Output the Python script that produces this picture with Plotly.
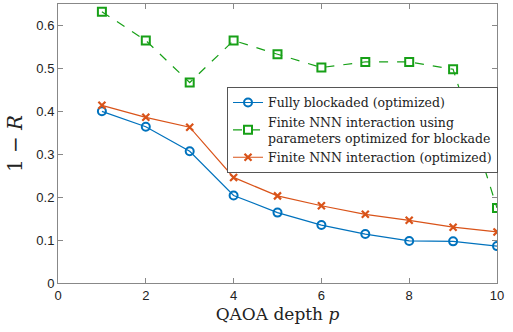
import plotly.graph_objects as go

p = [1, 2, 3, 4, 5, 6, 7, 8, 9, 10]
fully_blockaded = [0.400, 0.364, 0.307, 0.204, 0.164, 0.135, 0.114, 0.098, 0.097, 0.086]
nnn_blockade_params = [0.632, 0.565, 0.467, 0.565, 0.533, 0.502, 0.515, 0.515, 0.498, 0.175]
nnn_optimized = [0.414, 0.386, 0.363, 0.246, 0.203, 0.180, 0.160, 0.146, 0.130, 0.119]

names = ["Fully blockaded (optimized)",
         "Finite NNN interaction using<br>parameters optimized for blockade",
         "Finite NNN interaction (optimized)"]
x_ticks = [0, 2, 4, 6, 8, 10]
y_ticks = [0, 0.1, 0.2, 0.3, 0.4, 0.5, 0.6]

blue = "#0072BD"
green = "#17A017"
orange = "#D95319"
serif = "DejaVu Serif, serif"

fig = go.Figure()
fig.add_trace(go.Scatter(x=p, y=fully_blockaded, name=names[0], mode="lines+markers",
                         line=dict(color=blue, width=1.2),
                         marker=dict(symbol="circle-open", size=8, color=blue, line=dict(width=2))))
fig.add_trace(go.Scatter(x=p, y=nnn_blockade_params, name=names[1], mode="lines+markers",
                         line=dict(color=green, width=1.2, dash="dash"),
                         marker=dict(symbol="square-open", size=8, color=green, line=dict(width=2))))
fig.add_trace(go.Scatter(x=p, y=nnn_optimized, name=names[2], mode="lines+markers",
                         line=dict(color=orange, width=1.2),
                         marker=dict(symbol="x-thin-open", size=7, color=orange, line=dict(width=2.2))))

axis_common = dict(showline=True, linecolor="#888888", linewidth=1, mirror="allticks",
                   ticks="inside", ticklen=5, tickcolor="#888888", showgrid=False, zeroline=False,
                   tickfont=dict(family="Liberation Sans, Arial", size=13, color="#222222"))

fig.update_layout(
    width=513, height=332,
    margin=dict(l=58, r=16, t=4, b=49),
    plot_bgcolor="white", paper_bgcolor="white",
    xaxis=dict(range=[0, 10], tickvals=x_ticks,
               title=dict(text="QAOA depth <i>p</i>", standoff=6,
                          font=dict(family=serif, size=17, color="#222222")),
               **axis_common),
    yaxis=dict(range=[0, 0.65], tickvals=y_ticks, ticktext=["0", "0.1", "0.2", "0.3", "0.4", "0.5", "0.6"],
               title=dict(text="1 − <i>R</i>", standoff=8,
                          font=dict(family=serif, size=20, color="#222222")),
               **axis_common),
    legend=dict(x=0.385, y=0.703, xanchor="left", yanchor="top",
                bgcolor="white", bordercolor="#555555", borderwidth=1,
                font=dict(family=serif, size=12.5, color="#222222"),
                itemwidth=30, tracegroupgap=0),
    showlegend=True,
)

fig.write_html("out.html", config={"displayModeBar": False},
               post_script="document.body.style.margin='0';document.body.style.padding='0';")
